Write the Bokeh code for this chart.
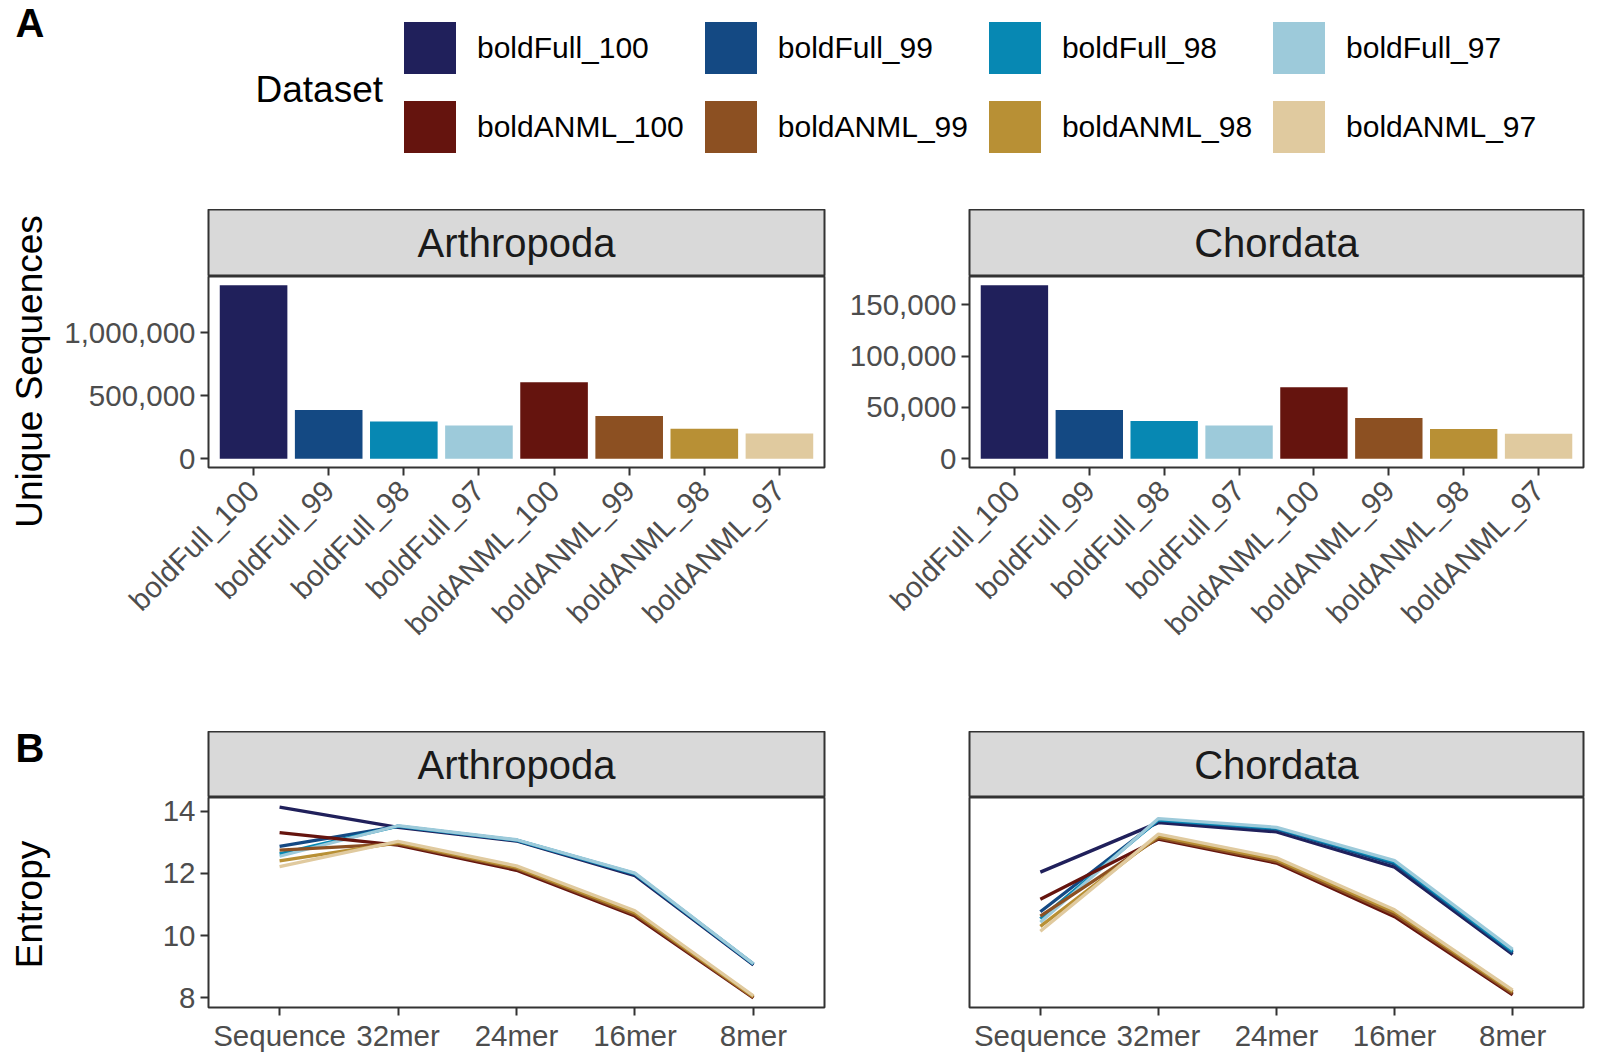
import math
from bokeh.plotting import figure
from bokeh.layouts import column, row
from bokeh.models import (FactorRange, Range1d, NumeralTickFormatter, FixedTicker,
                          Legend, LegendItem, ColumnDataSource)
from bokeh.embed import file_html
from bokeh.resources import INLINE
from bokeh.core.properties import value

# ---------------- data ----------------
datasets = ["boldFull_100", "boldFull_99", "boldFull_98", "boldFull_97",
            "boldANML_100", "boldANML_99", "boldANML_98", "boldANML_97"]
palette = ["#20205B", "#144983", "#0788B3", "#9DCADA",
           "#65140E", "#8C5022", "#B89035", "#E0CA9F"]

arthropoda_unique = [1380000, 388000, 296000, 265000, 609000, 341000, 239000, 202000]
chordata_unique = [168900, 47500, 36900, 32400, 69700, 39800, 28900, 24400]

kmer_levels = ["Sequence", "32mer", "24mer", "16mer", "8mer"]

arthropoda_entropy = {
    "boldFull_100": [14.13, 13.48, 13.04, 11.93, 9.06],
    "boldFull_99":  [12.87, 13.51, 13.06, 11.97, 9.08],
    "boldFull_98":  [12.63, 13.52, 13.07, 11.99, 9.09],
    "boldFull_97":  [12.55, 13.53, 13.08, 12.01, 9.10],
    "boldANML_100": [13.31, 12.91, 12.10, 10.63, 8.00],
    "boldANML_99":  [12.75, 12.95, 12.15, 10.68, 8.02],
    "boldANML_98":  [12.40, 12.99, 12.19, 10.74, 8.04],
    "boldANML_97":  [12.22, 13.03, 12.24, 10.80, 8.07],
}
chordata_entropy = {
    "boldFull_100": [12.04, 13.63, 13.33, 12.20, 9.40],
    "boldFull_99":  [10.77, 13.70, 13.42, 12.30, 9.45],
    "boldFull_98":  [10.54, 13.72, 13.45, 12.36, 9.50],
    "boldFull_97":  [10.43, 13.76, 13.48, 12.41, 9.56],
    "boldANML_100": [11.17, 13.10, 12.33, 10.61, 8.10],
    "boldANML_99":  [10.63, 13.14, 12.38, 10.68, 8.15],
    "boldANML_98":  [10.30, 13.20, 12.44, 10.76, 8.20],
    "boldANML_97":  [10.14, 13.26, 12.50, 10.83, 8.25],
}

arth_ticks = [0, 500000, 1000000]
chord_ticks = [0, 50000, 100000, 150000]
entropy_ticks = [8, 10, 12, 14]

FONT = "Liberation Sans"
BORDER = "#333333"

# ---------------- geometry (page has no margin) ----------------
W_LAB = 55
W_LEFT, W_RIGHT = 779, 765
MB_LEFT_L, MB_RIGHT_L = 153, 10
MB_LEFT_R, MB_RIGHT_R = 135, 16
H_LEG, H_STRIP_A, H_BAR, H_STRIP_B, H_LINE = 209, 67, 455, 66, 257
H_BODY = H_STRIP_A + H_BAR + H_STRIP_B + H_LINE


def style_axes(p):
    for ax in p.axis:
        ax.axis_line_color = None
        ax.major_tick_line_color = BORDER
        ax.major_tick_line_width = 2
        ax.major_tick_out = 8
        ax.major_tick_in = 0
        ax.minor_tick_line_color = None
        ax.major_label_text_font = FONT
        ax.major_label_text_font_size = "29.5px"
        ax.major_label_text_color = "#4D4D4D"
        ax.major_label_standoff = 5
    p.grid.visible = False
    p.outline_line_color = BORDER
    p.outline_line_width = 2
    p.background_fill_color = "white"
    p.border_fill_color = "white"


def blank(width, height):
    f = figure(width=width, height=height, x_range=Range1d(0, width), y_range=Range1d(0, height),
               toolbar_location=None, output_backend="svg", title=None,
               x_axis_location=None, y_axis_location=None,
               min_border_left=0, min_border_right=0, min_border_top=0, min_border_bottom=0)
    f.grid.visible = False
    f.outline_line_color = None
    f.border_fill_color = "white"
    f.background_fill_color = "white"
    return f


def strip(title, width, mbl, mbr, height):
    s = figure(width=width, height=height, x_range=Range1d(0, 1), y_range=Range1d(0, 1),
               toolbar_location=None, output_backend="svg", title=None,
               x_axis_location=None, y_axis_location=None,
               min_border_left=mbl, min_border_right=mbr, min_border_top=0, min_border_bottom=0)
    s.grid.visible = False
    s.background_fill_color = "#D9D9D9"
    s.border_fill_color = "white"
    s.outline_line_color = BORDER
    s.outline_line_width = 2
    s.text(x=[0.5], y=[0.5], text=[title], text_align="center", text_baseline="middle",
           text_font=value(FONT), text_font_size="40px", text_color="#1A1A1A")
    return s


def bar_panel(values, ticks, width, mbl, mbr):
    top = max(values)
    yr = Range1d(-0.05 * top, 1.05 * top)
    xr = FactorRange(*datasets, range_padding=0.1, range_padding_units="absolute")
    p = figure(width=width, height=H_BAR, x_range=xr, y_range=yr, toolbar_location=None,
               output_backend="svg", title=None,
               min_border_left=mbl, min_border_right=mbr, min_border_top=0, min_border_bottom=264)
    src = ColumnDataSource(dict(x=datasets, top=values, color=palette))
    p.vbar(x="x", top="top", bottom=0, width=0.9, fill_color="color", line_color=None, source=src)
    style_axes(p)
    p.yaxis.ticker = FixedTicker(ticks=ticks)
    p.yaxis.formatter = NumeralTickFormatter(format="0,0")
    p.xaxis.major_label_orientation = math.pi / 4
    p.xaxis.major_label_standoff = 10
    return p


all_entropy = [v for d in (arthropoda_entropy, chordata_entropy) for vals in d.values() for v in vals]
e_lo, e_hi = min(all_entropy), max(all_entropy)
e_pad = 0.05 * (e_hi - e_lo)


def line_panel(data, width, mbl, mbr, show_y=True):
    xr = FactorRange(*kmer_levels, range_padding=0.1, range_padding_units="absolute")
    yr = Range1d(e_lo - e_pad, e_hi + e_pad)
    p = figure(width=width, height=H_LINE, x_range=xr, y_range=yr, toolbar_location=None,
               output_backend="svg", title=None,
               min_border_left=mbl, min_border_right=mbr, min_border_top=0, min_border_bottom=40)
    for name, col in zip(datasets, palette):
        p.line(x=kmer_levels, y=data[name], line_color=col, line_width=3.3)
    style_axes(p)
    p.yaxis.ticker = FixedTicker(ticks=entropy_ticks)
    p.xaxis.major_label_standoff = 3
    if not show_y:
        p.yaxis.visible = False
    return p


# ---------------- legend figure ----------------
leg = blank(W_LAB + W_LEFT + W_RIGHT, H_LEG)
items = []
for name, col in zip(datasets, palette):
    proxy = ColumnDataSource(dict(x=[0], top=[0]))
    r = leg.vbar(x="x", top="top", bottom=0, width=1, fill_color=col, line_color=None, source=proxy)
    items.append(LegendItem(label=name, renderers=[r]))
legend = Legend(items=items, ncols=4, orientation="horizontal",
                glyph_width=65, glyph_height=65, label_standoff=15, spacing=14,
                padding=0, margin=0, border_line_color=None, background_fill_alpha=0,
                label_text_font=FONT, label_text_font_size="30px", label_text_color="#000000",
                location=(397, 50))
leg.add_layout(legend, "center")
leg.text(x=[255], y=[H_LEG - 89], text=["Dataset"], text_align="left", text_baseline="middle",
         text_font=value(FONT), text_font_size="37px", text_color="#000000")
leg.text(x=[15], y=[H_LEG - 22], text=["A"], text_align="left", text_baseline="middle",
         text_font=value(FONT), text_font_style="bold", text_font_size="40px", text_color="#000000")

# ---------------- left label column (spans both rows) ----------------
lab = blank(W_LAB, H_BODY)
lab.text(x=[29], y=[H_BODY - 162], text=["Unique Sequences"], angle=math.pi / 2,
         text_align="center", text_baseline="middle",
         text_font=value(FONT), text_font_size="37px", text_color="#000000")
lab.text(x=[15], y=[H_BODY - (H_STRIP_A + H_BAR) - 16], text=["B"], text_align="left",
         text_baseline="middle",
         text_font=value(FONT), text_font_style="bold", text_font_size="40px", text_color="#000000")
lab.text(x=[29], y=[H_BODY - (H_STRIP_A + H_BAR) - 173], text=["Entropy"], angle=math.pi / 2,
         text_align="center", text_baseline="middle",
         text_font=value(FONT), text_font_size="37px", text_color="#000000")

# ---------------- panels ----------------
sA1 = strip("Arthropoda", W_LEFT, MB_LEFT_L, MB_RIGHT_L, H_STRIP_A)
sA2 = strip("Chordata", W_RIGHT, MB_LEFT_R, MB_RIGHT_R, H_STRIP_A)
bA1 = bar_panel(arthropoda_unique, arth_ticks, W_LEFT, MB_LEFT_L, MB_RIGHT_L)
bA2 = bar_panel(chordata_unique, chord_ticks, W_RIGHT, MB_LEFT_R, MB_RIGHT_R)

sB1 = strip("Arthropoda", W_LEFT, MB_LEFT_L, MB_RIGHT_L, H_STRIP_B)
sB2 = strip("Chordata", W_RIGHT, MB_LEFT_R, MB_RIGHT_R, H_STRIP_B)
lB1 = line_panel(arthropoda_entropy, W_LEFT, MB_LEFT_L, MB_RIGHT_L)
lB2 = line_panel(chordata_entropy, W_RIGHT, MB_LEFT_R, MB_RIGHT_R, show_y=False)

layout = column(leg,
                row(lab,
                    column(row(column(sA1, bA1), column(sA2, bA2)),
                           row(column(sB1, lB1), column(sB2, lB2)))))

open("out.html", "w").write(file_html(layout, INLINE))
